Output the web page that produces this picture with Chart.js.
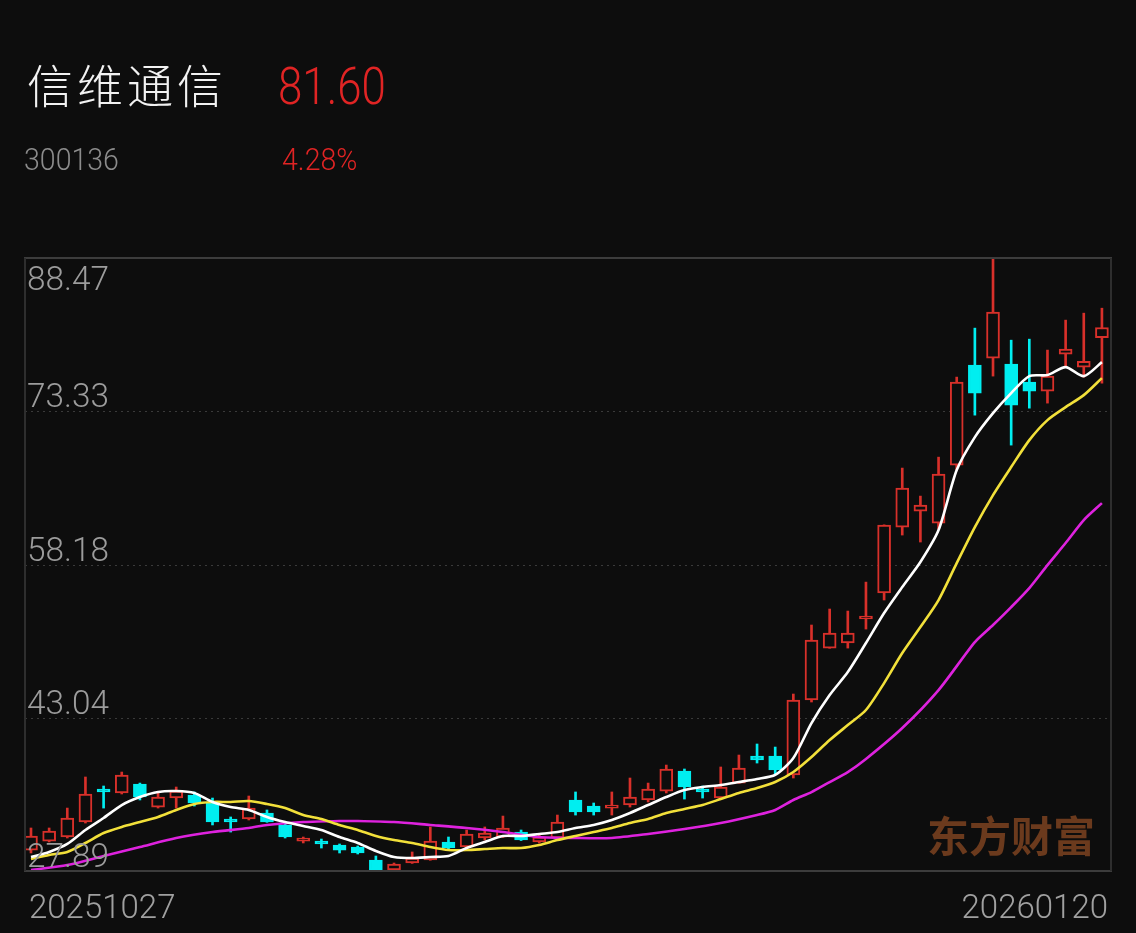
<!DOCTYPE html>
<html lang="zh">
  <head>
    <meta charset="UTF-8" />
    <title>信维通信</title>
    <script src="https://cdn.jsdelivr.net/npm/chart.js@4.4.1/dist/chart.umd.min.js"></script>
    <style>
      html, body { margin: 0; padding: 0; background: #0d0d0d; }
      #wrap { position: relative; width: 1136px; height: 933px; overflow: hidden; }
      .txt { position: absolute; white-space: nowrap; transform-origin: left top; line-height: 1; }
      #name { left: 27px; top: 50px; font: 300 46px "Noto Sans CJK SC", sans-serif; color: #f2f2f2; letter-spacing: 4px; }
      #price { left: 278px; top: 57px; font: 300 51px Roboto, sans-serif; color: #e02424; transform: scaleX(0.86); }
      #code { left: 24px; top: 141px; font: 300 31px Roboto, sans-serif; color: #8c8c8c; transform: scaleX(0.92); }
      #pct { left: 282px; top: 141px; font: 300 31px Roboto, sans-serif; color: #e02424; transform: scaleX(0.92); }
    </style>
  </head>
  <body>
    <div id="wrap">
      <canvas id="kline" width="1136" height="933"></canvas>
      <div class="txt" id="name">信维通信</div>
      <div class="txt" id="price">81.60</div>
      <div class="txt" id="code">300136</div>
      <div class="txt" id="pct">4.28%</div>
    </div>

    <script>
      // candles, 20251027 .. 20260120
      var dateLabels = ["20251027", "20260120"];
      var opens = [29.96, 30.85, 31.25, 32.73, 35.89, 35.60, 36.49, 34.21, 35.10, 35.40,
                   34.71, 33.03, 33.03, 33.62, 32.44, 30.85, 30.85, 30.46, 30.26, 28.98,
                   27.99, 28.68, 28.98, 30.76, 30.26, 31.15, 31.25, 31.74, 30.76, 31.15,
                   34.91, 34.31, 34.11, 34.41, 34.91, 35.79, 37.77, 35.89, 35.10, 36.58,
                   39.25, 39.25, 37.38, 44.79, 49.92, 50.42, 52.79, 55.36, 61.88, 63.46,
                   62.27, 68.00, 77.88, 78.57, 77.98, 76.20, 75.31, 78.97, 77.69, 80.59];
      var highs = [32.14, 32.14, 34.11, 37.18, 36.29, 37.67, 36.58, 35.60, 36.19, 35.70,
                   35.10, 33.23, 35.30, 33.92, 32.63, 31.25, 31.05, 30.56, 30.36, 29.37,
                   28.68, 29.77, 32.24, 31.25, 31.94, 32.24, 33.32, 31.94, 31.55, 33.42,
                   35.70, 34.61, 35.70, 37.08, 36.58, 38.36, 37.97, 36.29, 38.17, 39.35,
                   40.44, 40.14, 45.38, 52.20, 53.78, 53.58, 56.44, 62.10, 67.71, 64.94,
                   68.79, 76.70, 81.54, 88.47, 80.35, 80.45, 79.37, 82.33, 83.02, 83.51];
      var lows = [29.67, 30.76, 31.15, 32.63, 34.11, 35.50, 34.91, 34.11, 34.11, 34.31,
                  32.44, 31.74, 32.93, 32.70, 31.15, 30.66, 30.16, 29.67, 29.57, 27.89,
                  27.89, 28.64, 28.95, 29.96, 30.22, 30.95, 31.20, 30.90, 30.66, 31.10,
                  33.42, 33.42, 33.42, 34.21, 34.71, 35.60, 35.00, 35.10, 35.05, 36.55,
                  38.56, 37.47, 37.08, 44.59, 49.90, 49.92, 51.80, 54.67, 61.09, 60.40,
                  61.68, 67.51, 72.94, 76.80, 69.98, 73.63, 74.13, 77.69, 76.70, 76.10];
      var closes = [31.35, 31.84, 33.13, 35.50, 35.70, 37.38, 35.20, 35.20, 35.79, 34.61,
                    32.73, 32.73, 34.11, 32.73, 31.25, 31.15, 30.56, 29.96, 29.67, 27.89,
                    28.58, 29.17, 30.85, 30.16, 31.55, 31.64, 32.14, 30.95, 31.25, 32.73,
                    33.72, 33.72, 34.21, 35.20, 35.99, 37.97, 36.19, 35.70, 36.19, 38.07,
                    38.86, 37.87, 44.79, 50.71, 51.40, 51.40, 52.99, 62.07, 65.73, 64.05,
                    67.11, 76.20, 75.12, 83.12, 73.93, 75.31, 76.80, 79.46, 78.25, 81.60];

      // moving averages
      var ma5 = [29.27, 29.77, 30.56, 31.94, 33.13, 34.41, 35.20, 35.70, 35.79, 35.60,
                 34.71, 34.21, 33.92, 33.23, 32.73, 32.34, 31.94, 31.25, 30.66, 29.87,
                 29.27, 29.17, 29.27, 29.37, 30.16, 30.76, 31.35, 31.35, 31.55, 31.74,
                 32.14, 32.44, 32.93, 33.62, 34.41, 35.20, 35.89, 36.19, 36.39, 36.68,
                 36.98, 37.38, 39.05, 42.51, 45.28, 47.55, 50.42, 53.38, 55.95, 58.42,
                 61.58, 67.51, 70.77, 73.14, 75.12, 76.80, 76.90, 77.69, 76.80, 78.18];
      var ma10 = [29.08, 29.47, 29.77, 30.66, 31.64, 32.24, 32.73, 33.23, 33.92, 34.51,
                  34.71, 34.71, 34.81, 34.51, 34.11, 33.42, 33.03, 32.44, 31.94, 31.35,
                  30.95, 30.66, 30.26, 29.96, 29.96, 30.06, 30.16, 30.16, 30.46, 30.95,
                  31.35, 31.74, 32.14, 32.63, 33.03, 33.62, 34.02, 34.41, 35.00, 35.60,
                  36.09, 36.68, 37.67, 39.15, 40.83, 42.31, 43.80, 46.46, 49.43, 52.00,
                  54.67, 58.32, 61.88, 65.04, 67.81, 70.47, 72.45, 73.73, 74.92, 76.60];
      var ma20Idx = [0, 2, 4, 6, 8, 10, 12, 13, 15, 17, 18, 20, 22, 24, 26, 28, 30, 32, 34,
                     36, 38, 40, 41, 42, 43, 44, 45, 46, 48, 50, 52, 53, 54, 55, 56, 57, 58, 59];
      var ma20 = [27.99, 28.48, 29.37, 30.26, 31.15, 31.74, 32.14, 32.44, 32.73, 32.83, 32.83,
                  32.73, 32.44, 32.14, 31.74, 31.25, 31.15, 31.15, 31.55, 32.04, 32.63, 33.42,
                  33.92, 34.91, 35.69, 36.68, 37.67, 38.96, 42.02, 45.77, 50.51, 52.20, 53.97,
                  55.85, 58.12, 60.30, 62.57, 64.25];

      var yTicks = [27.89, 43.035, 58.18, 73.325, 88.47];
      var yTickLabels = ["27.89", "43.04", "58.18", "73.33", "88.47"];

      var RED = "#d8302a";
      var CYAN = "#00eef0";
      var BG = "#0d0d0d";

      var bodies = [], wicks = [], bodyFill = [], bodyLine = [], wickColor = [];
      for (var i = 0; i < closes.length; i++) {
        var up = closes[i] >= opens[i];
        bodies.push({ x: i, y: [opens[i], closes[i]] });
        wicks.push({ x: i, y: [lows[i], highs[i]] });
        bodyFill.push(up ? BG : CYAN);
        bodyLine.push(up ? RED : CYAN);
        wickColor.push(up ? RED : CYAN);
      }

      function pts(xs, ys) {
        var out = [];
        for (var k = 0; k < ys.length; k++) out.push({ x: xs ? xs[k] : k, y: ys[k] });
        return out;
      }

      var deco = {
        id: "deco",
        beforeDatasetsDraw: function (chart) {
          var ctx = chart.ctx, a = chart.chartArea, ys = chart.scales.y;
          ctx.save();
          // dashed grid
          ctx.strokeStyle = "#3a3a3a";
          ctx.lineWidth = 1;
          ctx.setLineDash([2, 4]);
          for (var t = 1; t < yTicks.length - 1; t++) {
            var py = Math.round(ys.getPixelForValue(yTicks[t])) + 0.5;
            ctx.beginPath();
            ctx.moveTo(a.left, py);
            ctx.lineTo(a.right, py);
            ctx.stroke();
          }
          ctx.setLineDash([]);
          // watermark
          ctx.fillStyle = "#6b3a1d";
          ctx.font = "bold 42px 'Noto Sans CJK SC'";
          ctx.textAlign = "right";
          ctx.textBaseline = "alphabetic";
          ctx.fillText("东方财富", 1095, 852);
          ctx.restore();
        },
        afterDatasetsDraw: function (chart) {
          var ctx = chart.ctx, a = chart.chartArea, ys = chart.scales.y;
          ctx.save();
          ctx.strokeStyle = "#3c3c3c";
          ctx.lineWidth = 2;
          ctx.beginPath();
          ctx.moveTo(a.left - 1, a.top);
          ctx.lineTo(a.right + 1, a.top);
          ctx.moveTo(a.left - 1, a.bottom);
          ctx.lineTo(a.right + 1, a.bottom);
          ctx.stroke();
          ctx.strokeStyle = "#2e2e2e";
          ctx.beginPath();
          ctx.moveTo(a.left, a.top);
          ctx.lineTo(a.left, a.bottom);
          ctx.moveTo(a.right, a.top);
          ctx.lineTo(a.right, a.bottom);
          ctx.stroke();

          // y labels inside the plot
          ctx.fillStyle = "#9c9c9c";
          ctx.font = "300 34px Roboto";
          ctx.textAlign = "left";
          ctx.textBaseline = "alphabetic";
          for (var t = 0; t < yTicks.length; t++) {
            var py = ys.getPixelForValue(yTicks[t]);
            var base = t === yTicks.length - 1 ? py + 32 : py - 4;
            ctx.save();
            ctx.translate(a.left + 2, base);
            ctx.scale(0.98, 1);
            ctx.fillText(yTickLabels[t], 0, 0);
            ctx.restore();
          }

          // first / last date
          ctx.fillStyle = "#a0a0a0";
          ctx.font = "300 33px Roboto";
          ctx.save();
          ctx.translate(29, 918);
          ctx.fillText(dateLabels[0], 0, 0);
          ctx.restore();
          ctx.save();
          ctx.translate(1108, 918);
          ctx.textAlign = "right";
          ctx.fillText(dateLabels[1], 0, 0);
          ctx.restore();
          ctx.restore();
        },
      };

      var lineOpts = { type: "line", pointRadius: 0, borderWidth: 2.6, tension: 0.25, fill: false, order: 0 };

      new Chart(document.getElementById("kline"), {
        type: "bar",
        data: {
          datasets: [
            Object.assign({}, lineOpts, { label: "MA5", data: pts(null, ma5), borderColor: "#ffffff" }),
            Object.assign({}, lineOpts, { label: "MA10", data: pts(null, ma10), borderColor: "#f2e03a" }),
            Object.assign({}, lineOpts, { label: "MA20", data: pts(ma20Idx, ma20), borderColor: "#de22de" }),
            {
              label: "body",
              data: bodies,
              backgroundColor: bodyFill,
              borderColor: bodyLine,
              borderWidth: 2,
              borderSkipped: false,
              barThickness: 13,
              minBarLength: 3,
              grouped: false,
              order: 1,
            },
            {
              label: "wick",
              data: wicks,
              backgroundColor: wickColor,
              borderWidth: 0,
              barThickness: 2,
              grouped: false,
              order: 2,
            },
          ],
        },
        options: {
          responsive: false,
          animation: false,
          layout: { padding: { left: 25, top: 258, right: 25, bottom: 62 } },
          plugins: { legend: { display: false }, tooltip: { enabled: false } },
          scales: {
            x: { type: "linear", display: false, offset: false, min: -0.33, max: 59.5 },
            y: { display: false, min: 27.89, max: 88.47 },
          },
        },
        plugins: [deco],
      });
    </script>
  </body>
</html>
